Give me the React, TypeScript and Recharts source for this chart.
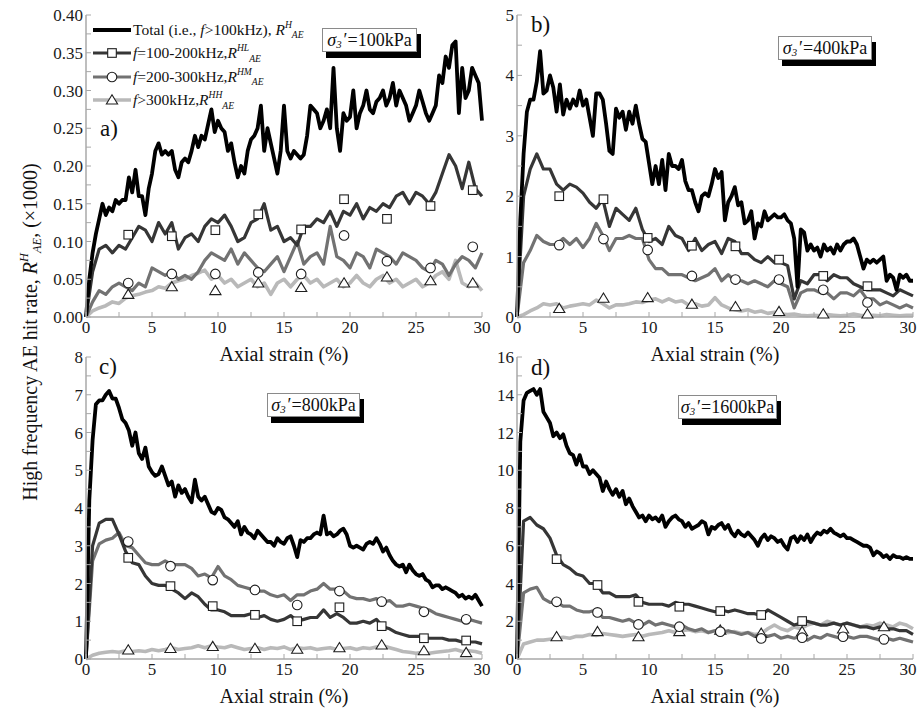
import React from "react";
import { ComposedChart, Line, Scatter, XAxis, YAxis, Legend } from "recharts";

const SERIF = '"Liberation Serif", "Times New Roman", serif';
const AXIS_GREY = "#a8a8a8";

// axial strain (%) of the band-split readings
const strain = [
  0, 0.5, 1, 1.5, 2, 2.5, 3, 3.5, 4, 4.5, 5, 5.5, 6, 6.5, 7, 7.5, 8, 8.5, 9, 9.5,
  10, 10.5, 11, 11.5, 12, 12.5, 13, 13.5, 14, 14.5, 15, 15.5, 16, 16.5, 17, 17.5, 18, 18.5, 19, 19.5,
  20, 20.5, 21, 21.5, 22, 22.5, 23, 23.5, 24, 24.5, 25, 25.5, 26, 26.5, 27, 27.5, 28, 28.5, 29, 29.5,
  30,
];

// axial strain (%) of the total-rate readings (logged twice as often)
const strainFine = [
  0, 0.25, 0.5, 0.75, 1, 1.25, 1.5, 1.75, 2, 2.25, 2.5, 2.75, 3, 3.25, 3.5, 3.75, 4, 4.25, 4.5, 4.75,
  5, 5.25, 5.5, 5.75, 6, 6.25, 6.5, 6.75, 7, 7.25, 7.5, 7.75, 8, 8.25, 8.5, 8.75, 9, 9.25, 9.5, 9.75,
  10, 10.25, 10.5, 10.75, 11, 11.25, 11.5, 11.75, 12, 12.25, 12.5, 12.75, 13, 13.25, 13.5, 13.75, 14, 14.25, 14.5, 14.75,
  15, 15.25, 15.5, 15.75, 16, 16.25, 16.5, 16.75, 17, 17.25, 17.5, 17.75, 18, 18.25, 18.5, 18.75, 19, 19.25, 19.5, 19.75,
  20, 20.25, 20.5, 20.75, 21, 21.25, 21.5, 21.75, 22, 22.25, 22.5, 22.75, 23, 23.25, 23.5, 23.75, 24, 24.25, 24.5, 24.75,
  25, 25.25, 25.5, 25.75, 26, 26.25, 26.5, 26.75, 27, 27.25, 27.5, 27.75, 28, 28.25, 28.5, 28.75, 29, 29.25, 29.5, 29.75,
  30,
];

const xTicks = [0, 2.5, 5, 7.5, 10, 12.5, 15, 17.5, 20, 22.5, 25, 27.5, 30];

// ---- sigma3' = 100 kPa ----
const totalA = [
  0, 0.05, 0.085, 0.11, 0.13, 0.15, 0.135, 0.145, 0.14, 0.155,
  0.15, 0.155, 0.155, 0.185, 0.165, 0.195, 0.16, 0.16, 0.135, 0.17,
  0.19, 0.22, 0.23, 0.215, 0.22, 0.215, 0.22, 0.195, 0.185, 0.205,
  0.21, 0.205, 0.22, 0.24, 0.225, 0.24, 0.235, 0.255, 0.275, 0.245,
  0.26, 0.25, 0.245, 0.22, 0.23, 0.205, 0.185, 0.2, 0.19, 0.22,
  0.235, 0.24, 0.25, 0.28, 0.22, 0.25, 0.23, 0.21, 0.19, 0.22,
  0.28, 0.22, 0.21, 0.22, 0.215, 0.21, 0.215, 0.24, 0.28, 0.275,
  0.27, 0.25, 0.26, 0.275, 0.25, 0.33, 0.25, 0.22, 0.27, 0.26,
  0.265, 0.3, 0.25, 0.27, 0.28, 0.3, 0.275, 0.27, 0.285, 0.29,
  0.3, 0.28, 0.29, 0.31, 0.28, 0.3, 0.29, 0.28, 0.26, 0.27,
  0.28, 0.3, 0.285, 0.27, 0.26, 0.27, 0.28, 0.32, 0.31, 0.345,
  0.33, 0.36, 0.365, 0.27, 0.33, 0.29, 0.3, 0.33, 0.32, 0.31,
  0.26,
];
const hlA = [
  0, 0.06, 0.09, 0.095, 0.085, 0.095, 0.09, 0.105, 0.12, 0.115,
  0.1, 0.125, 0.11, 0.125, 0.09, 0.105, 0.11, 0.1, 0.12, 0.13,
  0.125, 0.135, 0.12, 0.1, 0.105, 0.125, 0.13, 0.15, 0.115, 0.12,
  0.1, 0.105, 0.095, 0.12, 0.12, 0.13, 0.125, 0.14, 0.12, 0.14,
  0.135, 0.15, 0.13, 0.145, 0.14, 0.15, 0.145, 0.16, 0.165, 0.15,
  0.165, 0.16, 0.15, 0.165, 0.19, 0.215, 0.2, 0.17, 0.205, 0.17,
  0.16,
];
const hmA = [
  0, 0.02, 0.035, 0.03, 0.04, 0.045, 0.04, 0.035, 0.045, 0.04,
  0.065, 0.06, 0.055, 0.06, 0.05, 0.055, 0.05, 0.06, 0.075, 0.085,
  0.08, 0.075, 0.09, 0.07, 0.085, 0.075, 0.065, 0.06, 0.07, 0.08,
  0.06, 0.08, 0.1, 0.07, 0.08, 0.085, 0.07, 0.12, 0.08, 0.075,
  0.065, 0.085, 0.08, 0.065, 0.09, 0.085, 0.08, 0.07, 0.085, 0.08,
  0.075, 0.065, 0.06, 0.075, 0.07, 0.055, 0.07, 0.08, 0.075, 0.065,
  0.085,
];
const hhA = [
  0, 0.008, 0.012, 0.015, 0.02, 0.018, 0.025, 0.028, 0.03, 0.033,
  0.035, 0.04, 0.038, 0.045, 0.048, 0.05, 0.055, 0.058, 0.062, 0.05,
  0.055, 0.045, 0.05, 0.04, 0.045, 0.05, 0.04, 0.045, 0.03, 0.045,
  0.05, 0.04, 0.05, 0.055, 0.045, 0.05, 0.04, 0.045, 0.05, 0.04,
  0.045, 0.055, 0.045, 0.04, 0.05, 0.055, 0.045, 0.05, 0.04, 0.045,
  0.05, 0.04, 0.045, 0.055, 0.06, 0.05, 0.075, 0.045, 0.04, 0.045,
  0.035,
];
const markStrainA = [3.2, 6.5, 9.8, 13.05, 16.3, 19.55, 22.8, 26.1, 29.3];
const markHlA = [0.109, 0.107, 0.115, 0.136, 0.116, 0.156, 0.13, 0.147, 0.168];
const markHmA = [0.045, 0.057, 0.057, 0.059, 0.057, 0.108, 0.074, 0.065, 0.093];
const markHhA = [0.03, 0.04, 0.035, 0.045, 0.039, 0.045, 0.053, 0.048, 0.045];
const yTicksA = [
  0, 0.025, 0.05, 0.075, 0.1, 0.125, 0.15, 0.175, 0.2, 0.225, 0.25, 0.275, 0.3, 0.325, 0.35, 0.375, 0.4,
];

// ---- sigma3' = 400 kPa ----
const totalB = [
  0, 1.6, 2.7, 3.4, 3.6, 3.6, 3.9, 4.4, 3.7, 3.75,
  4.0, 3.8, 3.4, 3.85, 3.35, 3.6, 3.45, 3.6, 3.5, 3.75,
  3.5, 3.6, 3.3, 3.0, 3.7, 3.7, 3.6, 3.2, 2.75, 2.7,
  3.45, 3.3, 3.4, 3.1, 3.4, 3.2, 3.5, 3.2, 2.95, 2.9,
  2.55, 2.2, 2.5, 2.2, 2.6, 2.1, 2.7, 2.5, 2.5, 2.45,
  2.6, 2.25, 2.1, 2.1, 1.9, 1.75, 2.0, 2.05, 2.0, 2.2,
  2.45, 2.3, 2.4, 1.6, 1.9, 2.0, 2.15, 1.85, 1.9, 1.55,
  1.6, 1.75, 1.3, 1.55, 1.5, 1.75, 1.6, 1.65, 1.7, 1.65,
  1.65, 1.7, 1.6, 1.55, 1.3, 0.5, 1.45, 1.4, 1.1, 1.2,
  1.1, 1.15, 1.0, 1.2, 1.1, 1.15, 1.05, 1.2, 1.1, 1.2,
  1.25, 1.25, 1.3, 1.2, 1.0, 0.8, 0.95, 0.9, 0.95, 0.9,
  0.95, 1.0, 0.6, 0.7, 0.65, 0.45, 0.7, 0.65, 0.7, 0.6,
  0.6,
];
const hlB = [
  0, 2.0, 2.45, 2.7, 2.45, 2.45, 2.2, 2.1, 2.2, 2.15,
  2.05, 1.9, 1.8, 1.95, 1.5, 1.8, 1.7, 1.6, 1.8, 1.45,
  1.25, 1.3, 1.2, 1.5, 1.35, 1.3, 1.1, 1.3, 1.1, 1.2,
  1.25, 1.05, 1.3, 1.25, 1.05, 1.05, 0.95, 0.9, 1.0, 0.9,
  0.9, 0.85, 0.3, 0.6, 0.55, 0.7, 0.7, 0.6, 0.7, 0.65,
  0.65, 0.55, 0.5, 0.45, 0.45, 0.45, 0.4, 0.35, 0.45, 0.4,
  0.35,
];
const hmB = [
  0, 0.9, 1.1, 1.35, 1.25, 1.2, 1.2, 1.3, 1.2, 1.3,
  1.15, 1.3, 1.55, 1.35, 1.1, 1.3, 1.3, 1.35, 1.3, 1.3,
  0.95, 0.8, 0.8, 0.7, 0.7, 0.7, 0.65, 0.6, 0.65, 0.7,
  0.8, 0.6, 0.7, 0.6, 0.6, 0.55, 0.6, 0.55, 0.5, 0.6,
  0.55, 0.5, 0.15, 0.4, 0.45, 0.45, 0.4, 0.4, 0.3, 0.4,
  0.4, 0.35, 0.45, 0.3, 0.3, 0.2, 0.25, 0.2, 0.15, 0.2,
  0.15,
];
const hhB = [
  0, 0.04, 0.1, 0.15, 0.22, 0.2, 0.22, 0.15, 0.18, 0.2,
  0.22, 0.2, 0.28, 0.22, 0.15, 0.2, 0.2, 0.22, 0.25, 0.24,
  0.28, 0.3, 0.25, 0.3, 0.25, 0.27, 0.2, 0.22, 0.18, 0.2,
  0.32, 0.2, 0.15, 0.12, 0.1, 0.12, 0.08, 0.1, 0.06, 0.08,
  0.05, 0.04, 0.05, 0.03, 0.02, 0.03, 0.02, 0.04, 0.03, 0.02,
  0.03, 0.05, 0.03, 0.02, 0.03, 0.02, 0.04, 0.03, 0.02, 0.03,
  0.03,
];
const markStrainB = [3.2, 6.55, 9.9, 13.25, 16.55, 19.85, 23.2, 26.55];
const markHlB = [2.0, 1.95, 1.31, 1.18, 1.17, 0.95, 0.68, 0.51];
const markHmB = [1.19, 1.29, 1.11, 0.68, 0.62, 0.62, 0.45, 0.24];
const markHhB = [0.14, 0.31, 0.32, 0.21, 0.17, 0.09, 0.05, 0.05];
const yTicksB = [0, 0.5, 1, 1.5, 2, 2.5, 3, 3.5, 4, 4.5, 5];

// ---- sigma3' = 800 kPa ----
const totalC = [
  0, 4.2, 5.8, 6.75, 6.85, 6.85, 7.0, 7.1, 6.9, 6.9,
  6.65, 6.35, 6.25, 6.05, 5.65, 6.0, 5.45, 5.3, 5.6, 5.1,
  4.95, 4.85, 4.9, 5.1, 4.85, 4.6, 4.7, 4.3, 4.6, 4.4,
  4.5, 4.3, 4.15, 4.75, 4.3, 4.2, 4.3, 4.1, 3.9, 3.85,
  4.0, 3.95, 3.75, 3.7, 3.6, 3.5, 3.65, 3.3, 3.5, 3.35,
  3.3, 3.2, 3.4, 3.3, 3.2, 3.1, 3.1, 3.0, 3.2, 3.1,
  3.05, 3.2, 3.25, 3.0, 2.7, 3.15, 3.1, 3.2, 3.2, 3.3,
  3.35, 3.3, 3.8, 3.3, 3.35, 3.25, 3.3, 3.4, 3.45, 3.3,
  3.0, 2.95, 3.0, 2.95, 2.9, 3.05, 3.1, 3.05, 3.2, 3.05,
  2.85, 2.95, 2.75, 2.6, 2.5, 2.45, 2.5, 2.3, 2.5, 2.35,
  2.25, 2.2, 2.25, 2.1, 2.05, 1.9, 1.95, 1.95, 1.85, 1.9,
  1.85, 1.8, 1.75, 1.65, 1.7, 1.6, 1.65, 1.6, 1.7, 1.55,
  1.4,
];
const hlC = [
  0, 3.0, 3.6, 3.7, 3.7, 3.3, 2.85, 2.55, 2.5, 2.2,
  2.0, 1.95, 1.95, 1.85, 1.75, 1.6, 1.75, 1.65, 1.45, 1.3,
  1.3, 1.25, 1.15, 1.15, 1.15, 1.2, 1.1, 1.15, 1.05, 1.0,
  1.05, 1.15, 1.0, 1.05, 1.1, 1.1, 1.3, 1.1, 1.2, 1.1,
  0.95, 0.95, 1.0, 0.95, 1.05, 0.85, 0.8, 0.7, 0.65, 0.6,
  0.6, 0.6, 0.55, 0.55, 0.55, 0.5, 0.5, 0.45, 0.45, 0.45,
  0.4,
];
const hmC = [
  0, 2.6, 3.05, 3.15, 3.2, 3.35, 3.0, 2.95, 2.75, 2.55,
  2.5, 2.5, 2.6, 2.5, 2.5, 2.5, 2.4, 2.2, 2.25, 2.15,
  2.45, 2.2, 2.1, 1.95, 1.9, 1.85, 1.8, 1.8, 1.7, 1.65,
  1.7, 1.55, 1.7, 1.7, 1.8, 1.85, 2.0, 1.85, 1.85, 1.8,
  1.65, 1.6, 1.6, 1.55, 1.6, 1.5, 1.55, 1.4, 1.4, 1.45,
  1.4, 1.35, 1.3, 1.2, 1.15, 1.1, 1.05, 1.0, 1.05, 1.0,
  0.95,
];
const hhC = [
  0, 0.1, 0.15, 0.18, 0.2, 0.18, 0.22, 0.2, 0.22, 0.2,
  0.25, 0.22, 0.25, 0.3, 0.25, 0.28, 0.3, 0.35, 0.3, 0.35,
  0.32, 0.3, 0.35, 0.3, 0.25, 0.28, 0.3, 0.25, 0.3, 0.28,
  0.32, 0.25, 0.3, 0.28, 0.3, 0.25, 0.28, 0.3, 0.25, 0.28,
  0.3, 0.25, 0.3, 0.28, 0.32, 0.35, 0.3, 0.25, 0.2, 0.18,
  0.15, 0.18, 0.15, 0.18, 0.2, 0.22, 0.25, 0.2, 0.22, 0.2,
  0.15,
];
const markStrainC = [3.2, 6.4, 9.6, 12.8, 16.0, 19.2, 22.4, 25.6, 28.8];
const markHlC = [2.68, 1.93, 1.4, 1.17, 1.0, 1.37, 0.87, 0.55, 0.49];
const markHmC = [3.11, 2.46, 2.09, 1.83, 1.43, 1.8, 1.52, 1.25, 1.05];
const markHhC = [0.24, 0.28, 0.33, 0.28, 0.26, 0.3, 0.37, 0.22, 0.17];
const yTicksC = [0, 0.5, 1, 1.5, 2, 2.5, 3, 3.5, 4, 4.5, 5, 5.5, 6, 6.5, 7, 7.5, 8];

// ---- sigma3' = 1600 kPa ----
const totalD = [
  0, 11.5, 13.7, 14.1, 14.2, 14.3, 14.0, 14.3, 13.1, 12.8,
  12.5, 11.8, 12.0, 11.7, 11.9, 11.3, 10.9, 10.8, 10.3, 10.8,
  10.2, 10.2, 9.8, 10.0, 9.8, 9.6, 8.9, 9.4, 9.0, 8.7,
  9.0, 8.6, 8.9, 8.2, 8.5, 8.1, 7.8, 7.5, 7.6, 7.3,
  7.6, 7.4, 7.5, 7.3, 7.6, 7.0, 7.3, 7.5, 7.6, 7.4,
  7.3, 7.0, 7.2, 6.9, 7.0, 7.1, 7.3, 7.2, 6.6, 7.0,
  6.9, 7.1, 7.2, 6.9, 7.1, 6.7, 6.5, 6.8, 6.6, 6.5,
  6.7, 6.5, 6.3, 6.0, 6.4, 6.6, 6.3, 6.5, 6.4, 6.2,
  6.3, 6.0, 5.8, 6.4, 6.5, 6.2, 6.5, 6.3, 6.6, 6.2,
  6.5, 6.7, 6.6, 6.8, 6.7, 6.9, 6.7, 6.6, 6.5, 6.6,
  6.4, 6.4, 6.3, 6.2, 6.1, 6.0, 6.0, 5.9, 5.5, 5.7,
  5.6, 5.4, 5.5, 5.3, 5.5, 5.4, 5.4, 5.3, 5.4, 5.3,
  5.3,
];
const hlD = [
  0, 7.3, 7.5, 7.1, 6.9, 6.4, 5.5, 5.0, 4.8, 4.5,
  4.4, 4.0, 4.0, 3.5, 3.5, 3.3, 3.3, 3.3, 3.4, 3.0,
  2.9, 2.9, 2.9, 2.8, 3.0, 2.9, 2.9, 2.8, 2.7, 2.6,
  2.5, 2.6, 2.5, 2.6, 2.5, 2.4, 2.4, 2.3, 2.6, 2.4,
  2.2, 2.0, 1.8, 1.9, 2.0, 1.9, 1.8, 1.8, 1.9, 1.8,
  1.9, 1.8, 1.7, 1.7, 1.6, 1.7, 1.6, 1.6, 1.5, 1.5,
  1.3,
];
const hmD = [
  0, 3.5, 3.7, 3.8, 3.2, 3.0, 3.0, 2.8, 2.8, 2.6,
  2.5, 2.5, 2.6, 2.2, 2.2, 2.1, 2.0, 2.1, 1.9, 1.8,
  2.0, 1.8, 1.9, 1.8, 1.7, 1.8, 1.6, 1.5, 1.6, 1.4,
  1.5, 1.4, 1.5, 1.4, 1.3, 1.4, 1.2, 1.3, 1.2, 1.3,
  1.1, 1.2, 1.1, 1.2, 1.0, 1.2, 1.1, 1.3, 1.2, 1.1,
  1.2, 1.1, 1.2, 1.2, 1.1, 1.0, 1.1, 1.0, 1.1, 1.0,
  0.9,
];
const hhD = [
  0, 0.8, 0.9, 1.0, 1.0, 1.05, 1.1, 1.15, 1.1, 1.2,
  1.2, 1.3, 1.25, 1.35, 1.3, 1.25, 1.2, 1.25, 1.3, 1.2,
  1.3, 1.35, 1.4, 1.5, 1.4, 1.5, 1.55, 1.45, 1.5, 1.4,
  1.5, 1.55, 1.4, 1.45, 1.35, 1.4, 1.3, 1.35, 1.6, 1.8,
  1.6, 1.5, 1.7, 1.6, 1.8, 1.9, 1.8, 2.0, 1.9, 1.8,
  1.9, 1.8, 1.7, 1.8, 1.75, 1.9, 1.8, 1.7, 1.9, 1.8,
  1.6,
];
const markStrainD = [3.0, 6.1, 9.2, 12.3, 15.4, 18.5, 21.6, 24.7, 27.8];
const markHlD = [5.29, 3.92, 3.03, 2.77, 2.54, 2.33, 2.01];
const markHmD = [3.03, 2.47, 1.83, 1.71, 1.45, 1.09, 1.13, 1.18, 1.04];
const markHhD = [1.18, 1.45, 1.18, 1.45, 1.53, 1.36, 1.45, 1.59, 1.71];
const yTicksD = [0, 1, 2, 3, 4, 5, 6, 7, 8, 9, 10, 11, 12, 13, 14, 15, 16];

type MarkerKind = "square" | "circle" | "triangle" | null;
type SeriesKey = "total" | "hl" | "hm" | "hh";

// drawing order: lightest band first, total on top
const SERIES: { key: SeriesKey; color: string; width: number; marker: MarkerKind }[] = [
  { key: "hh", color: "#b9b9b9", width: 3.6, marker: "triangle" },
  { key: "hm", color: "#727272", width: 3.2, marker: "circle" },
  { key: "hl", color: "#363636", width: 3.2, marker: "square" },
  { key: "total", color: "#000000", width: 3.8, marker: null },
];

function Marker({ kind, cx, cy }: { kind: MarkerKind; cx: number; cy: number }) {
  const common = { fill: "#fff", stroke: "#1e1e1e", strokeWidth: 1.1 };
  if (kind === "square") return <rect x={cx - 4.3} y={cy - 4.3} width={8.6} height={8.6} {...common} />;
  if (kind === "circle") return <circle cx={cx} cy={cy} r={4.8} {...common} />;
  if (kind === "triangle")
    return <polygon points={`${cx},${cy - 5.2} ${cx + 5.6},${cy + 4} ${cx - 5.6},${cy + 4}`} {...common} />;
  return null;
}

const Rae = ({ sup }: { sup: string }) => (
  <span style={{ whiteSpace: "nowrap" }}>
    <i>R</i>
    <i style={{ fontSize: "0.62em", position: "relative", top: "-0.75em" }}>{sup}</i>
    <i style={{ fontSize: "0.62em", position: "relative", top: "0.35em" }}>AE</i>
  </span>
);

const legendRows: { key: SeriesKey; text: React.ReactNode }[] = [
  { key: "total", text: <>Total (i.e., <i>f</i>&gt;100kHz), <Rae sup="H" /></> },
  { key: "hl", text: <><i>f</i>=100-200kHz,<Rae sup="HL" /></> },
  { key: "hm", text: <><i>f</i>=200-300kHz,<Rae sup="HM" /></> },
  { key: "hh", text: <><i>f</i>&gt;300kHz,<Rae sup="HH" /></> },
];

function LegendBox() {
  return (
    <div style={{ fontFamily: SERIF, fontSize: 15.5, color: "#111" }}>
      {legendRows.map((row) => {
        const s = SERIES.find((it) => it.key === row.key)!;
        return (
          <div key={row.key} style={{ display: "flex", alignItems: "center", height: 23.5, whiteSpace: "nowrap" }}>
            <svg width={38} height={14} style={{ flex: "none" }}>
              <line x1={0} x2={38} y1={7} y2={7} stroke={s.color} strokeWidth={s.width} />
              <Marker kind={s.marker} cx={19} cy={7} />
            </svg>
            <span style={{ marginLeft: 2 }}>{row.text}</span>
          </div>
        );
      })}
    </div>
  );
}

type PanelCfg = {
  plotLeft: number;
  plotTop: number;
  yMax: number;
  yTicks: number[];
  fmt: (v: number) => string;
  total: number[];
  hl: number[];
  hm: number[];
  hh: number[];
  markStrain: number[];
  marks: { hl: number[]; hm: number[]; hh: number[] };
  legend?: boolean;
  rightEdge?: boolean;
};

const PANELS: PanelCfg[] = [
  {
    plotLeft: 86, plotTop: 15, yMax: 0.4, yTicks: yTicksA, fmt: (v) => v.toFixed(2),
    total: totalA, hl: hlA, hm: hmA, hh: hhA,
    markStrain: markStrainA, marks: { hl: markHlA, hm: markHmA, hh: markHhA }, legend: true,
  },
  {
    plotLeft: 517, plotTop: 15, yMax: 5, yTicks: yTicksB, fmt: (v) => String(v),
    total: totalB, hl: hlB, hm: hmB, hh: hhB,
    markStrain: markStrainB, marks: { hl: markHlB, hm: markHmB, hh: markHhB }, rightEdge: true,
  },
  {
    plotLeft: 86, plotTop: 357, yMax: 8, yTicks: yTicksC, fmt: (v) => String(v),
    total: totalC, hl: hlC, hm: hmC, hh: hhC,
    markStrain: markStrainC, marks: { hl: markHlC, hm: markHmC, hh: markHhC },
  },
  {
    plotLeft: 517, plotTop: 357, yMax: 16, yTicks: yTicksD, fmt: (v) => String(v),
    total: totalD, hl: hlD, hm: hmD, hh: hhD,
    markStrain: markStrainD, marks: { hl: markHlD, hm: markHmD, hh: markHhD }, rightEdge: true,
  },
];

const PLOT_W = 396;
const PLOT_H = 302;
const Y_AXIS_W = 60;
const TOP_PAD = 15;
const TICK_FONT = { fontSize: 17, fontFamily: SERIF, fill: "#1a1a1a" };

function Panel({ cfg }: { cfg: PanelCfg }) {
  const seriesRows = (key: SeriesKey) =>
    key === "total"
      ? strainFine.map((x, i) => ({ x, v: cfg.total[i] }))
      : strain.map((x, i) => ({ x, v: cfg[key][i] }));

  // strain tick labels every 5 %; the last one is nudged inwards on the right-hand panels
  const renderXTick = (p: any) => {
    const i = p.index as number;
    if (i % 2 !== 0) return <g />;
    const v = p.payload.value as number;
    const dx = cfg.rightEdge && v === 30 ? -5 : 0;
    return (
      <text x={p.x + dx} y={p.y} dy="0.71em" textAnchor="middle" {...TICK_FONT}>
        {v}
      </text>
    );
  };

  return (
    <div style={{ position: "absolute", left: cfg.plotLeft - Y_AXIS_W, top: cfg.plotTop - TOP_PAD }}>
      <ComposedChart
        width={Y_AXIS_W + PLOT_W + 20}
        height={TOP_PAD + PLOT_H + 50}
        margin={{ top: TOP_PAD, right: 20, bottom: 0, left: 0 }}
      >
        <XAxis
          type="number"
          dataKey="x"
          domain={[0, 30]}
          ticks={xTicks}
          interval={0}
          height={50}
          axisLine={{ stroke: AXIS_GREY, strokeWidth: 1.5 }}
          tickLine={{ stroke: AXIS_GREY }}
          tickSize={-5}
          tickMargin={9}
          tick={renderXTick}
          label={{
            value: "Axial strain (%)",
            position: "insideBottom",
            offset: 6,
            fontSize: 20,
            fontFamily: SERIF,
            fill: "#111",
          }}
        />
        <YAxis
          type="number"
          domain={[0, cfg.yMax]}
          ticks={cfg.yTicks}
          interval={0}
          tickFormatter={(v: number, i: number) => (i % 2 === 0 ? cfg.fmt(v) : "")}
          width={Y_AXIS_W}
          axisLine={{ stroke: AXIS_GREY, strokeWidth: 1.5 }}
          tickLine={{ stroke: AXIS_GREY }}
          tickSize={-5}
          tickMargin={8}
          tick={TICK_FONT}
        />
        {SERIES.map((s) => (
          <Line
            key={s.key}
            data={seriesRows(s.key)}
            type="linear"
            dataKey="v"
            stroke={s.color}
            strokeWidth={s.width}
            strokeLinejoin="round"
            dot={false}
            activeDot={false}
            isAnimationActive={false}
          />
        ))}
        {SERIES.filter((s) => s.marker).map((s) => {
          const vals = cfg.marks[s.key as "hl" | "hm" | "hh"];
          const pts = vals.map((y, i) => ({ x: cfg.markStrain[i], y }));
          return (
            <Scatter
              key={`m-${s.key}`}
              data={pts}
              dataKey="y"
              isAnimationActive={false}
              shape={(p: any) => <Marker kind={s.marker} cx={p.cx} cy={p.cy} />}
            />
          );
        })}
        {cfg.legend && (
          <Legend
            layout="vertical"
            align="center"
            verticalAlign="middle"
            content={() => <LegendBox />}
            wrapperStyle={{ left: 67, top: 18, width: "auto" }}
          />
        )}
      </ComposedChart>
    </div>
  );
}

const panelTags = [
  { text: "a)", left: 100, top: 116 },
  { text: "b)", left: 531, top: 12 },
  { text: "c)", left: 99, top: 354 },
  { text: "d)", left: 531, top: 355 },
];

const sigmaBoxes = [
  { value: "100", left: 322, top: 28, width: 95, height: 24 },
  { value: "400", left: 778, top: 36, width: 94, height: 24 },
  { value: "800", left: 267, top: 393, width: 93, height: 24 },
  { value: "1600", left: 678, top: 395, width: 99, height: 24 },
];

export default function App() {
  return (
    <div
      style={{
        position: "absolute",
        left: 0,
        top: 0,
        width: 917,
        height: 708,
        overflow: "hidden",
        background: "#fff",
        fontFamily: SERIF,
        color: "#111",
      }}
    >
      {PANELS.map((cfg, i) => (
        <Panel key={i} cfg={cfg} />
      ))}

      {panelTags.map((t) => (
        <div key={t.text} style={{ position: "absolute", left: t.left, top: t.top, fontSize: 23, lineHeight: "26px" }}>
          {t.text}
        </div>
      ))}

      {sigmaBoxes.map((b) => (
        <div
          key={b.value}
          style={{
            position: "absolute",
            left: b.left,
            top: b.top,
            width: b.width,
            height: b.height,
            boxSizing: "border-box",
            background: "#fff",
            border: "1px solid #8a8a8a",
            boxShadow: "4px 6px 0 #000",
            fontSize: 18,
            display: "flex",
            alignItems: "center",
            justifyContent: "center",
            whiteSpace: "nowrap",
          }}
        >
          <i>σ</i>
          <i style={{ fontSize: "0.6em", position: "relative", top: "0.4em" }}>3</i>
          <span style={{ marginLeft: 2 }}>′=</span>
          {b.value}kPa
        </div>
      ))}

      <div
        style={{
          position: "absolute",
          left: 30,
          top: 332,
          transform: "translate(-50%, -50%) rotate(-90deg)",
          whiteSpace: "nowrap",
          fontSize: 20,
        }}
      >
        High frequency AE hit rate, <Rae sup="H" />, (×1000)
      </div>
    </div>
  );
}
